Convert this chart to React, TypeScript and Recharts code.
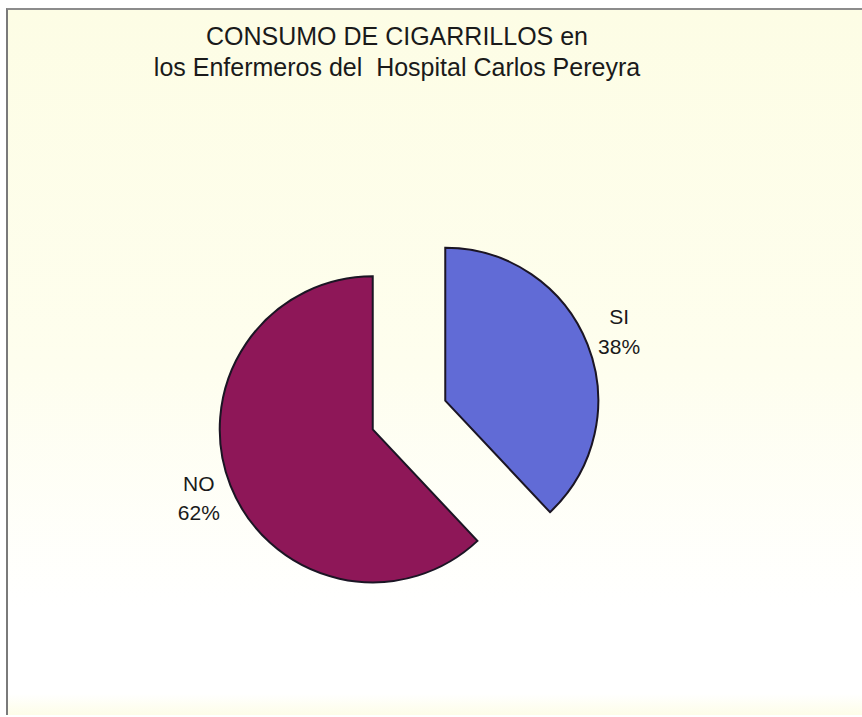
import { PieChart, Pie, Cell, Sector } from "recharts";

const categories = ["SI", "NO"];
const percents = [38, 62];
const COLORS = ["#616bd6", "#8e1758"];

const data = categories.map((name, i) => ({ name, value: percents[i] }));

const RAD = Math.PI / 180;
const EXPLODE = 39;

function ExplodedSlice(props: any) {
  const { cx, cy, midAngle, innerRadius, outerRadius, startAngle, endAngle, fill } = props;
  const dx = EXPLODE * Math.cos(-midAngle * RAD);
  const dy = EXPLODE * Math.sin(-midAngle * RAD);
  return (
    <Sector
      cx={cx + dx}
      cy={cy + dy}
      innerRadius={innerRadius}
      outerRadius={outerRadius}
      startAngle={startAngle}
      endAngle={endAngle}
      fill={fill}
      stroke="#1b1524"
      strokeWidth={2}
    />
  );
}

function renderLabel(props: any) {
  const { cx, cy, midAngle, outerRadius, name, value } = props;
  const r = outerRadius + EXPLODE + 34;
  const x = cx + r * Math.cos(-midAngle * RAD);
  const y = cy + r * Math.sin(-midAngle * RAD);
  return (
    <text
      x={x}
      y={y}
      textAnchor="middle"
      fill="#1a1a1a"
      style={{ fontFamily: "'Liberation Sans', Arial, sans-serif", fontSize: 21 }}
    >
      <tspan x={x} dy="-0.35em">{name}</tspan>
      <tspan x={x} dy="1.4em">{`${value}%`}</tspan>
    </text>
  );
}

export default function App() {
  return (
    <div
      style={{
        position: "fixed",
        left: 0,
        top: 0,
        width: 862,
        height: 717,
        background: "#ffffff",
        fontFamily: "'Liberation Sans', Arial, sans-serif",
        overflow: "hidden",
      }}
    >
      <div
        style={{
          position: "absolute",
          left: 6,
          top: 8,
          width: 856,
          height: 707,
          borderTop: "2px solid #8c8c8c",
          borderLeft: "2px solid #7a7a7a",
          boxSizing: "border-box",
          background: "linear-gradient(#fdfde5 0%, #fefeee 50%, #ffffff 85%, #ffffff 97%, #fdfde8 100%)",
        }}
      />
      <div
        style={{
          position: "absolute",
          left: 0,
          top: 21,
          width: 794,
          textAlign: "center",
          fontSize: 25,
          lineHeight: "31px",
          color: "#1a1a1a",
        }}
      >
        CONSUMO DE CIGARRILLOS en
        <br />
        los Enfermeros del&nbsp; Hospital Carlos Pereyra
      </div>
      <div style={{ position: "absolute", left: 0, top: 0 }}>
        <PieChart width={862} height={717}>
          <Pie
            data={data}
            dataKey="value"
            nameKey="name"
            cx={404}
            cy={410}
            outerRadius={153}
            startAngle={90}
            endAngle={-270}
            isAnimationActive={false}
            shape={ExplodedSlice}
            label={renderLabel}
            labelLine={false}
          >
            {data.map((_, i) => (
              <Cell key={i} fill={COLORS[i]} />
            ))}
          </Pie>
        </PieChart>
      </div>
    </div>
  );
}
